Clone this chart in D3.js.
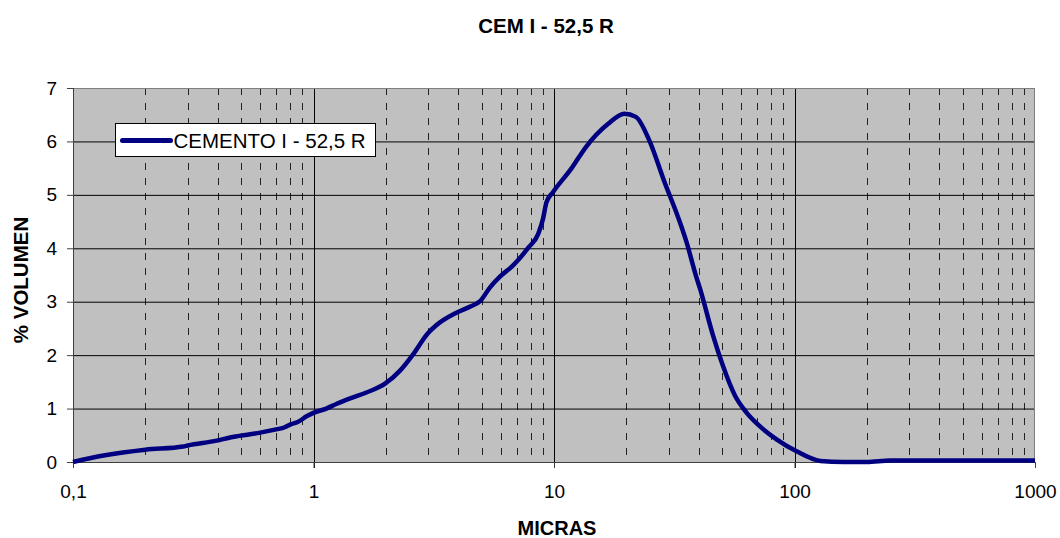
<!DOCTYPE html>
<html>
<head>
<meta charset="utf-8">
<style>
  body { margin: 0; background: #fff; }
  text { font-family: "Liberation Sans", Arial, sans-serif; }
</style>
</head>
<body>
<svg id="chart" width="1060" height="538"></svg>
<script src="https://d3js.org/d3.v7.min.js"></script>
<script>

// particle size distribution
var micras = [0.1, 0.134, 0.2, 0.287, 0.3, 0.396, 0.45, 0.545, 0.6, 0.7, 0.76, 0.8, 0.86, 0.94, 1.0,
  1.13, 1.25, 1.42, 1.66, 1.99, 2.29, 2.6, 2.99, 3.24, 3.91, 4.49, 4.93, 5.42, 5.96, 6.76, 7.85,
  8.6, 9.0, 9.3, 9.9, 11.8, 13.6, 16.8, 19.6, 21.9, 24.9, 28.8, 33.0, 35.6, 38.9, 40.5, 45.9,
  50.4, 56.6, 63.3, 71.7, 84.5, 102, 128, 160, 200, 250, 300, 400, 500, 700, 1000];
var volumen = [0.0, 0.12, 0.23, 0.29, 0.31, 0.4, 0.46, 0.52, 0.55, 0.61, 0.65, 0.7, 0.75, 0.86, 0.92,
  1.0, 1.09, 1.19, 1.3, 1.47, 1.71, 2.02, 2.41, 2.56, 2.79, 2.91, 3.01, 3.27, 3.47, 3.68, 4.02,
  4.27, 4.55, 4.86, 5.05, 5.49, 5.9, 6.33, 6.52, 6.46, 6.02, 5.24, 4.55, 4.11, 3.49, 3.24, 2.36,
  1.8, 1.24, 0.92, 0.67, 0.42, 0.2, 0.02, 0.0, 0.0, 0.03, 0.03, 0.03, 0.03, 0.03, 0.03];

var xTicks = [0.1, 1, 10, 100, 1000];
var xTickLabels = ["0,1", "1", "10", "100", "1000"];
var yTicks = [0, 1, 2, 3, 4, 5, 6, 7];

var title = "CEM I - 52,5 R";
var seriesName = "CEMENTO I - 52,5 R";
var xTitle = "MICRAS";
var yTitle = "% VOLUMEN";

var svg = d3.select("#chart"),
    margin = {top: 88, right: 25, bottom: 76, left: 73},
    width = +svg.attr("width") - margin.left - margin.right,
    height = +svg.attr("height") - margin.top - margin.bottom,
    g = svg.append("g").attr("transform", "translate(" + margin.left + "," + margin.top + ")");

var x = d3.scaleLog().domain([0.1, 1000]).range([0, width]);
var y = d3.scaleLinear().domain([0, 7]).range([height, 0]);

// plot background
g.append("rect")
  .attr("width", width).attr("height", height)
  .attr("fill", "#c0c0c0");

// minor dashed verticals (2..9 of each decade)
var minor = [];
[0.1, 1, 10, 100].forEach(function(d) {
  for (var k = 2; k <= 9; k++) minor.push(d * k);
});
g.selectAll(".minor").data(minor).enter().append("line")
  .attr("class", "minor")
  .attr("x1", d => Math.round(x(d)) + 0.5).attr("x2", d => Math.round(x(d)) + 0.5)
  .attr("y1", 0).attr("y2", height)
  .attr("stroke", "#222")
  .attr("stroke-width", 1)
  .attr("stroke-dasharray", "7,8");

// horizontal gridlines
g.append("g")
  .attr("class", "grid")
  .call(d3.axisLeft(y).tickValues(yTicks.slice(1)).tickSize(-width).tickFormat(""))
  .call(s => s.select(".domain").remove())
  .selectAll("line").attr("stroke", "#000");

// major verticals at decades
g.selectAll(".major").data(xTicks.slice(1, -1)).enter().append("line")
  .attr("class", "major")
  .attr("x1", d => Math.round(x(d)) + 0.5).attr("x2", d => Math.round(x(d)) + 0.5)
  .attr("y1", 0).attr("y2", height + 6)
  .attr("stroke", "#000");

// frame
g.append("line").attr("x1", 0).attr("x2", width).attr("y1", 0.5).attr("y2", 0.5).attr("stroke", "#808080");
g.append("line").attr("x1", width - 0.5).attr("x2", width - 0.5).attr("y1", 0).attr("y2", height).attr("stroke", "#808080");

// axes
var yAxis = g.append("g")
  .call(d3.axisLeft(y).tickValues(yTicks).tickSize(6).tickPadding(10).tickFormat(d3.format("d")));
yAxis.select(".domain").attr("stroke", "#404040").attr("d", "M0.5,0V" + height);
yAxis.selectAll(".tick line").attr("stroke", "#404040");
yAxis.selectAll("text").attr("font-size", 19).attr("fill", "#000")
  .style("font-family", "'Liberation Sans', Arial, sans-serif");

var xAxis = g.append("g")
  .attr("transform", "translate(0," + height + ")")
  .call(d3.axisBottom(x).tickValues(xTicks).tickSize(6).tickPadding(17)
    .tickFormat((d, i) => xTickLabels[i]));
xAxis.select(".domain").attr("stroke", "#404040").attr("d", "M0,0.5H" + width);
xAxis.selectAll(".tick line").attr("stroke", "#404040");
xAxis.selectAll("text").attr("font-size", 19).attr("fill", "#000")
  .style("font-family", "'Liberation Sans', Arial, sans-serif");

// the series
var pts = micras.map((m, i) => [m, volumen[i]]);
var line = d3.line()
  .x(d => x(d[0]))
  .y(d => y(d[1]))
  .curve(d3.curveMonotoneX);

g.append("path")
  .datum(pts)
  .attr("fill", "none")
  .attr("stroke", "#000080")
  .attr("stroke-width", 4.5)
  .attr("stroke-linejoin", "round")
  .attr("d", line);

// legend
var legend = svg.append("g").attr("transform", "translate(115.5,123.5)");
legend.append("rect")
  .attr("width", 260).attr("height", 33)
  .attr("fill", "#fff").attr("stroke", "#000");
legend.append("line")
  .attr("x1", 7).attr("x2", 55).attr("y1", 17).attr("y2", 17)
  .attr("stroke", "#000080").attr("stroke-width", 5).attr("stroke-linecap", "round");
legend.append("text")
  .attr("x", 58).attr("y", 24)
  .attr("font-size", 20.5)
  .text(seriesName);

// titles
svg.append("text")
  .attr("x", 546).attr("y", 33)
  .attr("text-anchor", "middle")
  .attr("font-size", 20.5).attr("font-weight", "bold")
  .text(title);

svg.append("text")
  .attr("x", margin.left + width / 2 + 3).attr("y", 535)
  .attr("text-anchor", "middle")
  .attr("font-size", 20).attr("font-weight", "bold")
  .text(xTitle);

svg.append("text")
  .attr("transform", "translate(28," + (margin.top + height / 2 + 5) + ") rotate(-90)")
  .attr("text-anchor", "middle")
  .attr("font-size", 20.5).attr("font-weight", "bold")
  .text(yTitle);

</script>
</body>
</html>
